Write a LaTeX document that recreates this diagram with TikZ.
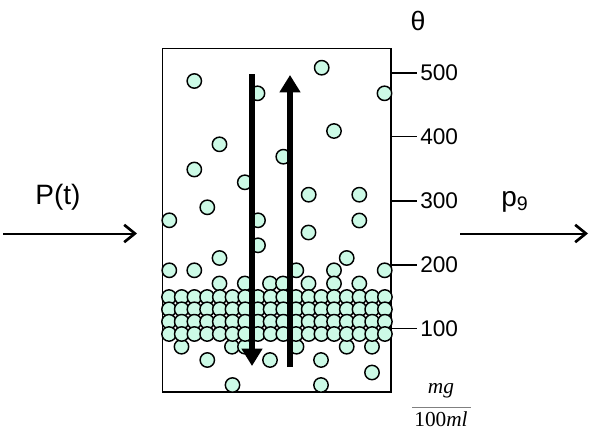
\documentclass[tikz,border=0pt]{standalone}
\usepackage{fontspec}
\setmainfont{Liberation Sans}
\newfontfamily\serifit{Liberation Serif}
\usetikzlibrary{arrows.meta}
\definecolor{beadfill}{RGB}{204,250,230}
\tikzset{
  bead/.style={draw=black, line width=1.1pt, fill=beadfill},
  tickmark/.style={line width=1.1pt},
  flow/.style={line width=1.5pt, -{Straight Barb[length=8pt,width=13pt,line width=2pt]}},
  bigarrow/.style={line width=5.2pt, -{Triangle[length=13pt,width=15pt]}},
  ticklabel/.style={anchor=west, inner sep=0pt, font=\fontsize{17}{19}\selectfont},
  biglabel/.style={inner sep=0pt, font=\fontsize{21}{23}\selectfont}
}
\begin{document}
\begin{tikzpicture}[x=0.75pt,y=-0.75pt]
\useasboundingbox (0,0) rectangle (600,432);
% container
\draw[line width=1.1pt] (162.5,48.5) rectangle (391,392);
% scattered beads
\foreach \bx/\by in {194.3/81, 257.5/93.3, 321.7/67.7, 384.5/93.3, 334/131, 219.5/144.3,
  194.3/169.5, 283.3/156.7, 244.8/182.3, 308.7/194.7, 359.3/194.7, 207.3/207.3,
  169.3/220.3, 258/220.3, 359.3/220.5, 308.5/232.5, 258/245.3, 219.5/258, 346.7/258,
  169.3/270.3, 194.3/270.3, 296.3/270.3, 334/270.3, 384.7/270.3,
  219.5/283.5, 244.8/283.5, 270/283.5, 283/283.5, 308.5/283.5, 334/283.5, 359.3/283.5,
  181.5/346.7, 232/346.7, 245/346.7, 296.5/346.7, 346.7/346.7, 372/346.7,
  207.3/360, 270/360, 321/360, 372/372.5, 232.5/385, 321/385}
  \draw[bead] (\bx,\by) circle[radius=5.4pt];
% dense band
\foreach \by in {297,309.3,321.7,334}
  \foreach \k in {0,...,17}
    \draw[bead] ({169+12.7*\k},\by) circle[radius=5.4pt];
% vertical arrows
\coordinate (dtop) at (252,74);
\coordinate (dbot) at (252,366);
\coordinate (ubot) at (290,367);
\coordinate (utop) at (290,75);
\draw[bigarrow] (dtop) -- (dbot);
\draw[bigarrow] (ubot) -- (utop);
% scale ticks
\foreach \v/\ty in {500/73, 400/136.5, 300/201, 200/265, 100/328.5} {
  \coordinate (t\v) at (391,\ty);
  \coordinate (e\v) at (417,\ty);
  \draw[tickmark] (t\v) -- (e\v);
  \node[ticklabel] (l\v) at (420,\ty) {\v};
}
\node[inner sep=0pt, font=\fontsize{20}{22}\selectfont] (theta) at (418,21) {θ};
% units
\node[inner sep=0pt, font=\serifit\itshape\fontsize{16}{17}\selectfont] (mg) at (441,391) {mg};
\node[inner sep=0pt, font=\serifit\fontsize{16}{17}\selectfont] (ml) at (441,419) {100\textit{ml}};
\coordinate (fl) at (412,407);
\coordinate (fr) at (471,407);
\draw[line width=0.5pt, gray] (fl) -- (fr);
% inflow / outflow
\coordinate (inA) at (3,233.5);
\coordinate (inB) at (137,233.5);
\coordinate (outA) at (460,233.5);
\coordinate (outB) at (588,233.5);
\draw[flow] (inA) -- (inB);
\draw[flow] (outA) -- (outB);
\node[biglabel] (Pt) at (58,197) {P(t)};
\node[biglabel, anchor=base west] (p9) at (501,206) {p\textsubscript{9}};
\end{tikzpicture}
\end{document}
